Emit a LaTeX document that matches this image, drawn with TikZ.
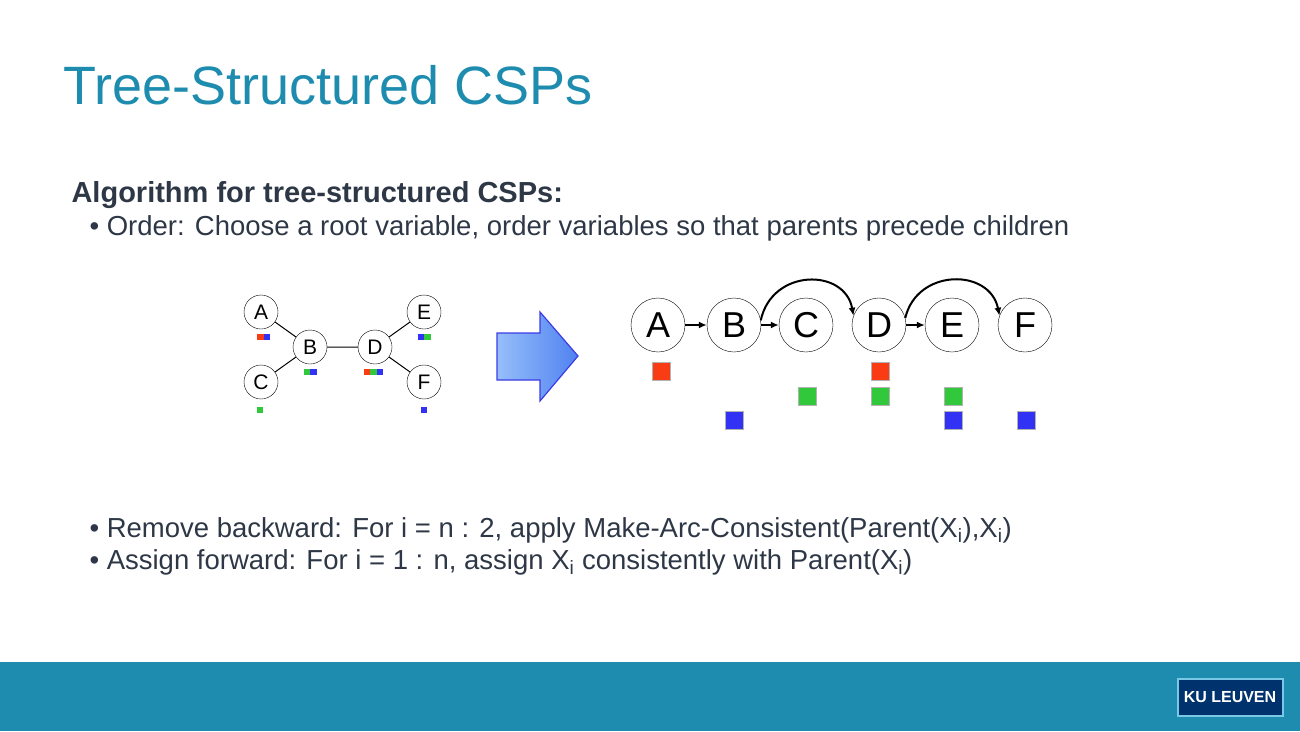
\documentclass[tikz,border=0pt]{standalone}
\usepackage{fontspec}
\setmainfont{Liberation Sans}
\usetikzlibrary{arrows.meta}
\definecolor{kub}{RGB}{30,140,175}
\definecolor{txt}{RGB}{45,55,70}
\definecolor{sr}{RGB}{250,60,20}
\definecolor{sg}{RGB}{50,200,60}
\definecolor{sb}{RGB}{50,50,245}
\begin{document}
\begin{tikzpicture}[x=1pt,y=-1pt,
 sn/.style={circle,draw,fill=white,minimum size=34pt,inner sep=0pt,font=\fontsize{21}{21}\selectfont},
 bn/.style={circle,draw,fill=white,minimum size=54pt,inner sep=0pt},
 bl/.style={font=\fontsize{36}{36}\selectfont},
 ss/.style={minimum size=6.5pt,inner sep=0pt,draw=none},
 bs/.style={minimum size=18pt,inner sep=0pt,draw=gray!60,line width=0.3pt},
 ar/.style={line width=2pt,-{Latex[length=8pt,width=7pt]}},
 tx/.style={anchor=base west,text=txt,font=\fontsize{27.5}{27.5}\selectfont}]
\useasboundingbox (0,0) rectangle (1300,731);
\fill[kub] (0,662) rectangle (1300,731);
\node[fill={rgb,255:red,0;green,50;blue,110},draw={rgb,255:red,120;green,200;blue,230},line width=2pt,minimum width=105pt,minimum height=37pt,text=white,font=\bfseries\fontsize{16}{16}\selectfont] (logo) at (1230,697) {KU LEUVEN};
\node[anchor=base west,text=kub,font=\fontsize{54}{54}\selectfont] (title) at (60,104) {Tree-Structured CSPs};
\node[tx,font=\bfseries\fontsize{29}{29}\selectfont] (h) at (68,202) {Algorithm for tree-structured CSPs:};
\node[tx] (b1) at (86,235) {• Order: Choose a root variable, order variables so that parents precede children};
\node[tx] (b2) at (86,537) {• Remove backward: For i = n : 2, apply Make-Arc-Consistent(Parent(X\textsubscript{i}),X\textsubscript{i})};
\node[tx] (b3) at (86,569) {• Assign forward: For i = 1 : n, assign X\textsubscript{i} consistently with Parent(X\textsubscript{i})};
% left graph
\node[sn] (A) at (261,312) {A};
\node[sn] (B) at (310,347) {B};
\node[sn] (C) at (261,382) {C};
\node[sn] (D) at (375,347) {D};
\node[sn] (E) at (424,312) {E};
\node[sn] (F) at (424,382) {F};
\draw[line width=1pt] (A)--(B) (C)--(B) (B)--(D) (D)--(E) (D)--(F);
\node[ss,fill=sr] (a1) at (260.5,337) {}; \node[ss,fill=sb] (a2) at (267,337) {};
\node[ss,fill=sg] (b1s) at (307,372) {}; \node[ss,fill=sb] (b2s) at (313.5,372) {};
\node[ss,fill=sg] (c1) at (260,410) {};
\node[ss,fill=sr] (d1) at (367,372) {}; \node[ss,fill=sg] (d2) at (373.5,372) {}; \node[ss,fill=sb] (d3) at (380,372) {};
\node[ss,fill=sb] (e1) at (421,337) {}; \node[ss,fill=sg] (e2) at (427.5,337) {};
\node[ss,fill=sb] (f1) at (424,410) {};
% big arrow
\shade[left color={rgb,255:red,150;green,190;blue,250},right color={rgb,255:red,80;green,130;blue,240},draw={rgb,255:red,60;green,60;blue,230},line width=1.2pt]
 (497,333)--(540,333)--(540,312)--(578,356)--(540,401)--(540,380)--(497,380)--cycle;
% chain
\node[bn] (A2) at (658,325) {};
\node[bn] (B2) at (734,325) {};
\node[bn] (C2) at (806,325) {};
\node[bn] (D2) at (879,325) {};
\node[bn] (E2) at (952,325) {};
\node[bn] (F2) at (1025,325) {};
\node[bl] (lA) at (A2) {A};
\node[bl] (lB) at (B2) {B};
\node[bl] (lC) at (C2) {C};
\node[bl] (lD) at (D2) {D};
\node[bl] (lE) at (E2) {E};
\node[bl] (lF) at (F2) {F};
\draw[ar] (A2)--(B2);
\draw[ar] (B2)--(C2);
\draw[ar] (D2)--(E2);
\draw[ar] (B2.10) .. controls (772,268) and (845,268) .. (D2.160);
\draw[ar] (D2.15) .. controls (917,268) and (990,268) .. (F2.160);
\node[bs,fill=sr] (s1) at (661,371) {};
\node[bs,fill=sr] (s2) at (880,371) {};
\node[bs,fill=sg] (s3) at (807,396) {};
\node[bs,fill=sg] (s4) at (880,396) {};
\node[bs,fill=sg] (s5) at (953,396) {};
\node[bs,fill=sb] (s6) at (734,420) {};
\node[bs,fill=sb] (s7) at (953,420) {};
\node[bs,fill=sb] (s8) at (1026,420) {};
\end{tikzpicture}
\end{document}
